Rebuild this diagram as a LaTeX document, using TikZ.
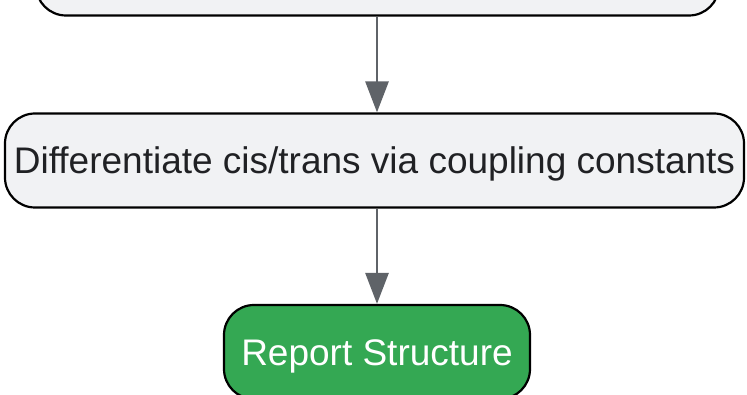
\documentclass[tikz,border=0pt]{standalone}
\usepackage{fontspec}
\setmainfont{Liberation Sans}
\usetikzlibrary{arrows.meta}
\definecolor{boxfill}{HTML}{F1F2F4}
\definecolor{edgecol}{HTML}{5F6368}
\definecolor{grn}{HTML}{34A853}
\definecolor{txt}{HTML}{202124}
\tikzset{
  flowbox/.style={draw=black, line width=2.2pt, rounded corners=30pt, fill=boxfill,
    inner sep=0pt, minimum height=94pt, text=txt,
    font=\fontsize{37}{44}\selectfont},
  endbox/.style={flowbox, fill=grn, text=white},
  flowarrow/.style={draw=edgecol, line width=2.8pt, -{Triangle[length=31pt,width=23pt]}, shorten >=0pt}
}
\begin{document}
\begin{tikzpicture}[x=1pt,y=-1pt]
\useasboundingbox (0,0) rectangle (747,395);
\clip (0,0) rectangle (747,395);
\node[flowbox, minimum width=683pt] (top) at (377.5,-31.5) {};
\node[flowbox, minimum width=739pt] (mid) at (374.5,160.5) {\raisebox{-3.5pt}[\height][\depth]{Differentiate cis/trans via coupling constants}};
\node[endbox, minimum width=306pt] (rep) at (377,352) {\raisebox{-4.5pt}[\height][\depth]{Report Structure}};
\draw[flowarrow] (377,-31.5 |- top.south) -- (377,-31.5 |- mid.north);
\draw[flowarrow] (mid.south -| rep.north) -- (rep.north);
\end{tikzpicture}
\end{document}
